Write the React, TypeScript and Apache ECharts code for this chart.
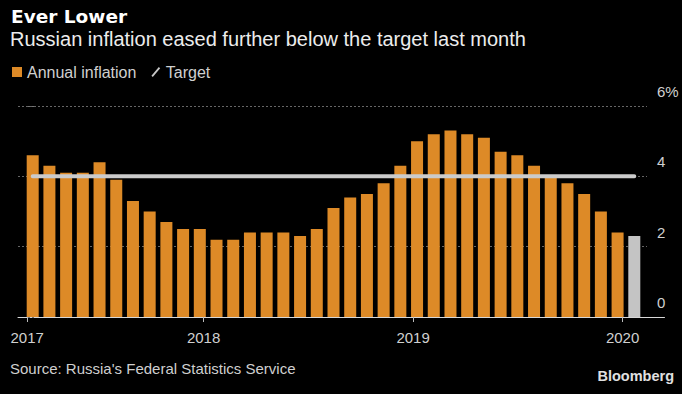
import React, { useEffect, useRef } from 'react';
import * as echarts from 'echarts';

const months = [
  'Feb 2017', 'Mar 2017', 'Apr 2017', 'May 2017', 'Jun 2017', 'Jul 2017', 'Aug 2017', 'Sep 2017', 'Oct 2017', 'Nov 2017', 'Dec 2017',
  'Jan 2018', 'Feb 2018', 'Mar 2018', 'Apr 2018', 'May 2018', 'Jun 2018', 'Jul 2018', 'Aug 2018', 'Sep 2018', 'Oct 2018', 'Nov 2018', 'Dec 2018',
  'Jan 2019', 'Feb 2019', 'Mar 2019', 'Apr 2019', 'May 2019', 'Jun 2019', 'Jul 2019', 'Aug 2019', 'Sep 2019', 'Oct 2019', 'Nov 2019', 'Dec 2019',
  'Jan 2020', 'Feb 2020',
];

const inflation = [
  4.6, 4.3, 4.1, 4.1, 4.4, 3.9, 3.3, 3.0, 2.7, 2.5, 2.5,
  2.2, 2.2, 2.4, 2.4, 2.4, 2.3, 2.5, 3.1, 3.4, 3.5, 3.8, 4.3,
  5.0, 5.2, 5.3, 5.2, 5.1, 4.7, 4.6, 4.3, 4.0, 3.8, 3.5, 3.0,
  2.4, 2.3,
];

const target = 4;

const yearLabels = [2017, 2018, 2019, 2020];
const yearAxisMin = 2017.114;
const yearAxisMax = 2020.2;

const ORANGE = '#dd8a27';
const GREY_BAR = '#c4c4c4';
const FONT = '"Liberation Sans", Arial, sans-serif';

export default function App() {
  const ref = useRef<HTMLDivElement>(null);

  useEffect(() => {
    const chart = echarts.init(ref.current as HTMLDivElement, null, { renderer: 'svg' });
    const yearTickValues = yearLabels.map((y) => Math.max(y, yearAxisMin + 0.044));
    const option: any = {
      backgroundColor: '#000',
      animation: false,
      grid: [
        { left: 18, right: 35, top: 106, height: 211 },
        { left: 24.34, right: 39.34, top: 106, height: 211 },
        { left: 18, right: 17.5, top: 106, height: 211 },
      ],
      xAxis: [
        { gridIndex: 0, type: 'value', show: false, min: 0, max: 1 },
        { gridIndex: 1, type: 'category', data: months, show: false },
        {
          gridIndex: 2,
          type: 'value',
          min: yearAxisMin,
          max: yearAxisMax,
          axisLine: { show: true, lineStyle: { color: '#d8d8d8', width: 1 } },
          splitLine: { show: false },
          axisTick: { show: true, length: 5, lineStyle: { color: '#bbbbbb' }, customValues: yearTickValues },
          axisLabel: {
            customValues: yearTickValues,
            formatter: (v: number) => String(Math.floor(v + 1e-6)),
            color: '#d0d0d0',
            fontFamily: FONT,
            fontSize: 15,
            margin: 13,
          },
        },
      ],
      yAxis: [
        {
          gridIndex: 0,
          type: 'value',
          position: 'right',
          min: 0,
          max: 6,
          interval: 2,
          axisLine: { show: false },
          axisTick: { show: true, length: 18, lineStyle: { color: '#777777', type: [0, 10, 2, 2, 2, 2] } },
          splitLine: { show: true, lineStyle: { color: '#666666', type: [2, 2] } },
          axisLabel: {
            margin: 10,
            align: 'left',
            verticalAlign: 'bottom',
            lineHeight: 15,
            padding: [0, 0, 7, 0],
            color: '#d0d0d0',
            fontSize: 15,
            fontFamily: FONT,
            formatter: (v: number) => (v === 6 ? '6%' : String(v)),
          },
        },
        { gridIndex: 1, type: 'value', min: 0, max: 6, show: false },
        { gridIndex: 2, type: 'value', min: 0, max: 6, show: false },
      ],
      legend: {
        left: 12,
        top: 64,
        padding: 0,
        itemWidth: 10,
        itemHeight: 10,
        itemGap: 15,
        textStyle: { color: '#d0d0d0', fontSize: 16, fontFamily: FONT },
        data: [
          { name: 'Annual inflation', icon: 'rect', itemStyle: { color: ORANGE } },
          { name: 'Target', icon: 'path://M0,10 L8.4,0 L10,1.4 L1.6,11.4 Z', itemStyle: { color: '#c8c8c8' } },
        ],
      },
      series: [
        {
          name: 'Annual inflation',
          type: 'bar',
          xAxisIndex: 1,
          yAxisIndex: 1,
          barWidth: 12,
          itemStyle: { color: ORANGE },
          data: inflation.map((v, i) =>
            i === inflation.length - 1 ? { value: v, itemStyle: { color: GREY_BAR } } : v
          ),
        },
        {
          name: 'Target',
          type: 'line',
          xAxisIndex: 1,
          yAxisIndex: 1,
          symbol: 'none',
          z: 3,
          lineStyle: { color: '#cbcbcb', width: 4, cap: 'round' },
          itemStyle: { color: '#cbcbcb' },
          data: months.map(() => target),
        },
      ],
      graphic: [
        {
          type: 'text',
          x: 11,
          y: 16.7,
          style: { text: 'Ever Lower', fill: '#ffffff', font: 'bold 18.5px "DejaVu Sans", sans-serif', textVerticalAlign: 'middle' },
        },
        {
          type: 'text',
          x: 10,
          y: 39.2,
          style: {
            text: 'Russian inflation eased further below the target last month',
            fill: '#ececec',
            font: '20px "Liberation Sans", Arial, sans-serif',
            textVerticalAlign: 'middle',
          },
        },
        {
          type: 'text',
          x: 10,
          y: 368.8,
          style: {
            text: "Source: Russia's Federal Statistics Service",
            fill: '#cfcfcf',
            font: '15px "Liberation Sans", Arial, sans-serif',
            textVerticalAlign: 'middle',
          },
        },
        {
          type: 'text',
          x: 674,
          y: 375.5,
          style: {
            text: 'Bloomberg',
            fill: '#e0e0e0',
            font: 'bold 14.5px "Liberation Sans", Arial, sans-serif',
            textAlign: 'right',
            textVerticalAlign: 'middle',
          },
        },
      ],
    };
    chart.setOption(option);
    return () => {
      chart.dispose();
    };
  }, []);

  return (
    <div
      ref={ref}
      style={{ position: 'fixed', left: 0, top: 0, width: 682, height: 394, background: '#000' }}
    />
  );
}
